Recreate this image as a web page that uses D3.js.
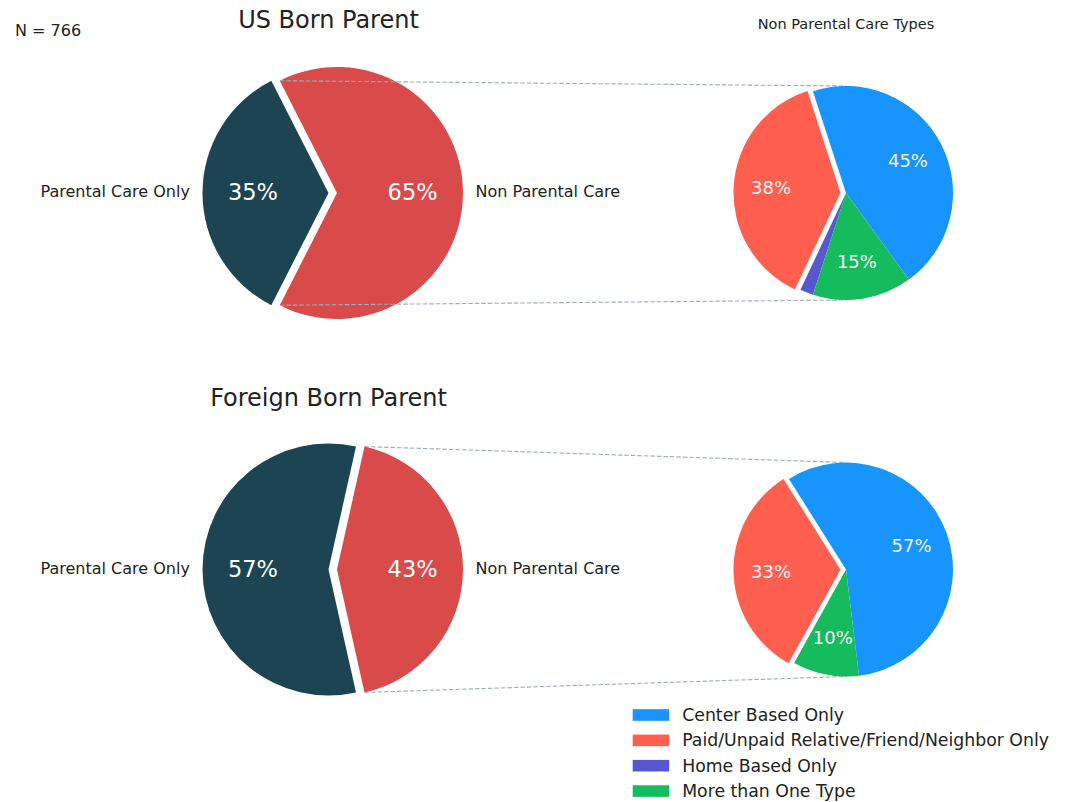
<!DOCTYPE html>
<html>
<head>
<meta charset="utf-8">
<script src="https://cdn.jsdelivr.net/npm/d3@7"></script>
<style>
  body { margin: 0; background: #fff; }
  text { font-family: "DejaVu Sans", sans-serif; }
</style>
</head>
<body>
<div id="chart"></div>
<script>
// data
const careLabels = ["Parental Care Only", "Non Parental Care"];
const usBorn = [35, 65];
const foreignBorn = [57, 43];

const typeLabels = ["Center Based Only", "Paid/Unpaid Relative/Friend/Neighbor Only", "Home Based Only", "More than One Type"];
const usTypes = [45, 38, 2, 15];
const foreignTypes = [57, 33, 0, 10];

const rowTitles = ["US Born Parent", "Foreign Born Parent"];
const sampleSize = 766;

const careColor = d3.scaleOrdinal().domain(careLabels).range(["#1c4452", "#d94a4a"]);
const typeColor = d3.scaleOrdinal().domain(typeLabels).range(["#1795fd", "#ff5f4f", "#5757cf", "#16bb5d"]);

const width = 1065;
const height = 802;

// layout
const leftX = 328.5, leftR = 126, leftExplode = 8.5;
const rightX = 846, rightR = 107, rightExplode = 5.5;
const rows = [
  { title: rowTitles[0], care: usBorn, types: usTypes, cy: 193, titleY: 28, typeStart: -54 },
  { title: rowTitles[1], care: foreignBorn, types: foreignTypes, cy: 569.5, titleY: 406, typeStart: -83 }
];

// matplotlib style angles (deg, ccw from 3 o'clock) to d3 radians
const toRad = a => (90 - a) * Math.PI / 180;

const svg = d3.select("#chart")
  .append("svg")
  .attr("width", width)
  .attr("height", height);

svg.append("text")
  .attr("x", 15).attr("y", 35.5)
  .attr("font-size", 16).attr("fill", "#222")
  .text("N = " + sampleSize);

svg.append("text")
  .attr("x", rightX).attr("y", 29)
  .attr("text-anchor", "middle")
  .attr("font-size", 14.5).attr("fill", "#222")
  .text("Non Parental Care Types");

const offset = (d, e) => {
  const m = (d.startAngle + d.endAngle) / 2;
  return [Math.sin(m) * e, -Math.cos(m) * e];
};

rows.forEach(row => {
  const cy = row.cy;

  // left pie, second wedge centred at 3 o'clock
  const careTotal = d3.sum(row.care);
  const start = 180 - 180 * row.care[0] / careTotal;
  const carePie = d3.pie().sort(null)
    .startAngle(toRad(start))
    .endAngle(toRad(start) - 2 * Math.PI);
  const careArcs = carePie(row.care);
  const arcL = d3.arc().innerRadius(0).outerRadius(leftR);

  const gL = svg.append("g").attr("transform", `translate(${leftX},${cy})`);
  careArcs.forEach((d, i) => {
    const o = i === 1 ? offset(d, leftExplode) : [0, 0];
    const w = gL.append("g").attr("transform", `translate(${o[0]},${o[1]})`);
    w.append("path")
      .attr("d", arcL(d))
      .attr("fill", careColor(careLabels[i]));
    const m = (d.startAngle + d.endAngle) / 2;
    w.append("text")
      .attr("x", Math.sin(m) * leftR * 0.6)
      .attr("y", -Math.cos(m) * leftR * 0.6 + 7)
      .attr("text-anchor", "middle")
      .attr("font-size", 22.5).attr("fill", "#fff")
      .text(Math.round(d.value / careTotal * 100) + "%");
    const lx = Math.sin(m) * leftR * 1.1;
    w.append("text")
      .attr("x", lx)
      .attr("y", -Math.cos(m) * leftR * 1.1 + 4)
      .attr("text-anchor", lx < 0 ? "end" : "start")
      .attr("font-size", 16).attr("fill", "#222")
      .text(careLabels[i]);
  });

  svg.append("text")
    .attr("x", leftX).attr("y", row.titleY)
    .attr("text-anchor", "middle")
    .attr("font-size", 24).attr("fill", "#222")
    .text(row.title);

  // connection lines from the exploded wedge to the right pie
  const nd = careArcs[1];
  const no = offset(nd, leftExplode);
  const ends = [nd.startAngle, nd.endAngle]
    .map(a => [leftX + no[0] + Math.sin(a) * leftR, cy + no[1] - Math.cos(a) * leftR])
    .sort((a, b) => a[1] - b[1]);
  const lineG = svg.append("g");
  [[ends[0], [rightX, cy - rightR]], [ends[1], [rightX, cy + rightR]]].forEach(p => {
    lineG.append("line")
      .attr("x1", p[0][0]).attr("y1", p[0][1])
      .attr("x2", p[1][0]).attr("y2", p[1][1])
      .attr("stroke", "#9dadb7")
      .attr("stroke-width", 1.1)
      .attr("stroke-dasharray", "4.5,2");
  });

  // right pie
  const typeTotal = d3.sum(row.types);
  const typePie = d3.pie().sort(null)
    .startAngle(toRad(row.typeStart))
    .endAngle(toRad(row.typeStart) - 2 * Math.PI);
  const arcR = d3.arc().innerRadius(0).outerRadius(rightR);
  const gR = svg.append("g").attr("transform", `translate(${rightX},${cy})`);
  typePie(row.types).forEach((d, i) => {
    const o = i === 1 ? offset(d, rightExplode) : [0, 0];
    const w = gR.append("g").attr("transform", `translate(${o[0]},${o[1]})`);
    w.append("path")
      .attr("d", arcR(d))
      .attr("fill", typeColor(typeLabels[i]));
    const pct = d.value / typeTotal * 100;
    if (pct >= 5) {
      const m = (d.startAngle + d.endAngle) / 2;
      w.append("text")
        .attr("x", Math.sin(m) * rightR * 0.65)
        .attr("y", -Math.cos(m) * rightR * 0.65 + 6)
        .attr("text-anchor", "middle")
        .attr("font-size", 18).attr("fill", "#f4f4f4")
        .text(Math.round(pct) + "%");
    }
  });
});

// legend
const legend = svg.append("g").attr("transform", "translate(632.7,715)");
typeLabels.forEach((t, i) => {
  const g = legend.append("g").attr("transform", `translate(0,${i * 25.35})`);
  g.append("rect")
    .attr("x", 0).attr("y", -5.8)
    .attr("width", 36.5).attr("height", 11.6)
    .attr("fill", typeColor(t));
  g.append("text")
    .attr("x", 49.5).attr("y", 6)
    .attr("font-size", 17.3).attr("fill", "#222")
    .text(t);
});
</script>
</body>
</html>
